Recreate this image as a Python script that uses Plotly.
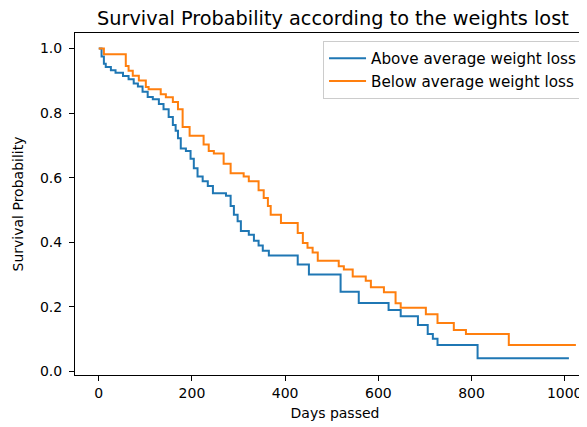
import plotly.graph_objects as go

# Above average weight loss (Kaplan-Meier steps)
above_days = [0, 6, 11, 15, 26, 36, 52, 64, 75, 84, 94, 105, 116, 129, 139, 150, 159, 165, 170, 176,
              187, 197, 204, 212, 223, 234, 245, 273, 283, 290, 298, 305, 322, 333, 343, 352, 365, 427,
              451, 519, 558, 622, 648, 685, 706, 717, 727, 813, 1009]
above_surv = [1.0, 0.975, 0.953, 0.943, 0.933, 0.925, 0.915, 0.905, 0.892, 0.882, 0.866, 0.85, 0.843,
              0.828, 0.812, 0.788, 0.763, 0.745, 0.722, 0.690, 0.683, 0.659, 0.629, 0.604, 0.589, 0.574,
              0.552, 0.544, 0.512, 0.485, 0.465, 0.435, 0.423, 0.405, 0.39, 0.374, 0.359, 0.331, 0.3,
              0.247, 0.212, 0.19, 0.171, 0.144, 0.116, 0.101, 0.082, 0.041, 0.041]

# Below average weight loss
below_days = [0, 11, 58, 64, 73, 86, 101, 107, 133, 144, 159, 170, 180, 195, 225, 236, 247, 268, 283,
              311, 322, 343, 354, 363, 369, 391, 427, 438, 448, 459, 470, 515, 526, 545, 573, 584, 612,
              637, 648, 702, 727, 762, 788, 880, 1024]
below_surv = [1.0, 0.982, 0.946, 0.931, 0.916, 0.901, 0.881, 0.874, 0.858, 0.849, 0.834, 0.812, 0.757,
              0.73, 0.703, 0.683, 0.675, 0.643, 0.614, 0.604, 0.589, 0.561, 0.537, 0.512, 0.485, 0.46,
              0.429, 0.398, 0.383, 0.368, 0.343, 0.326, 0.316, 0.294, 0.281, 0.261, 0.245, 0.211, 0.197,
              0.177, 0.15, 0.128, 0.116, 0.082, 0.082]

x_ticks = [0, 200, 400, 600, 800, 1000]
y_ticks = [0.0, 0.2, 0.4, 0.6, 0.8, 1.0]

FONT = "DejaVu Sans"

fig = go.Figure()
fig.add_trace(go.Scatter(x=above_days, y=above_surv, mode="lines", line_shape="hv",
                         line=dict(color="#1f77b4", width=2), name="Above average weight loss"))
fig.add_trace(go.Scatter(x=below_days, y=below_surv, mode="lines", line_shape="hv",
                         line=dict(color="#ff7f0e", width=2), name="Below average weight loss"))

fig.update_layout(
    width=587, height=427,
    margin=dict(l=67, r=0, t=25, b=60),
    paper_bgcolor="white", plot_bgcolor="white",
    font=dict(family=FONT, size=14, color="black"),
    title=dict(text="Survival Probability according to the weights lost",
               x=0.496, xref="paper", xanchor="center",
               y=1 - 10 / 427, yref="container", yanchor="middle",
               font=dict(family=FONT, size=19.3, color="black")),
    showlegend=True,
    legend=dict(x=0.477, y=0.977, xanchor="left", yanchor="top",
                bgcolor="rgba(255,255,255,0.8)", bordercolor="#cccccc", borderwidth=1,
                font=dict(family=FONT, size=15.2, color="black"),
                tracegroupgap=0, itemwidth=37),
)
fig.update_xaxes(range=[-51, 1065], tickvals=x_ticks, ticktext=[str(v) for v in x_ticks],
                 showgrid=False, zeroline=False, showline=True, linecolor="black", linewidth=1,
                 mirror=True, ticks="outside", ticklen=5, tickcolor="black",
                 title=dict(text="Days passed", standoff=8, font=dict(family=FONT, size=14)))
fig.update_yaxes(range=[-0.011, 1.048], tickvals=y_ticks, ticktext=[f"{v:.1f}" for v in y_ticks],
                 showgrid=False, zeroline=False, showline=True, linecolor="black", linewidth=1,
                 mirror=False, ticks="outside", ticklen=5, tickcolor="black",
                 ticklabelstandoff=4,
                 title=dict(text="Survival Probability", standoff=13, font=dict(family=FONT, size=14)))

fig.write_html("out.html")
